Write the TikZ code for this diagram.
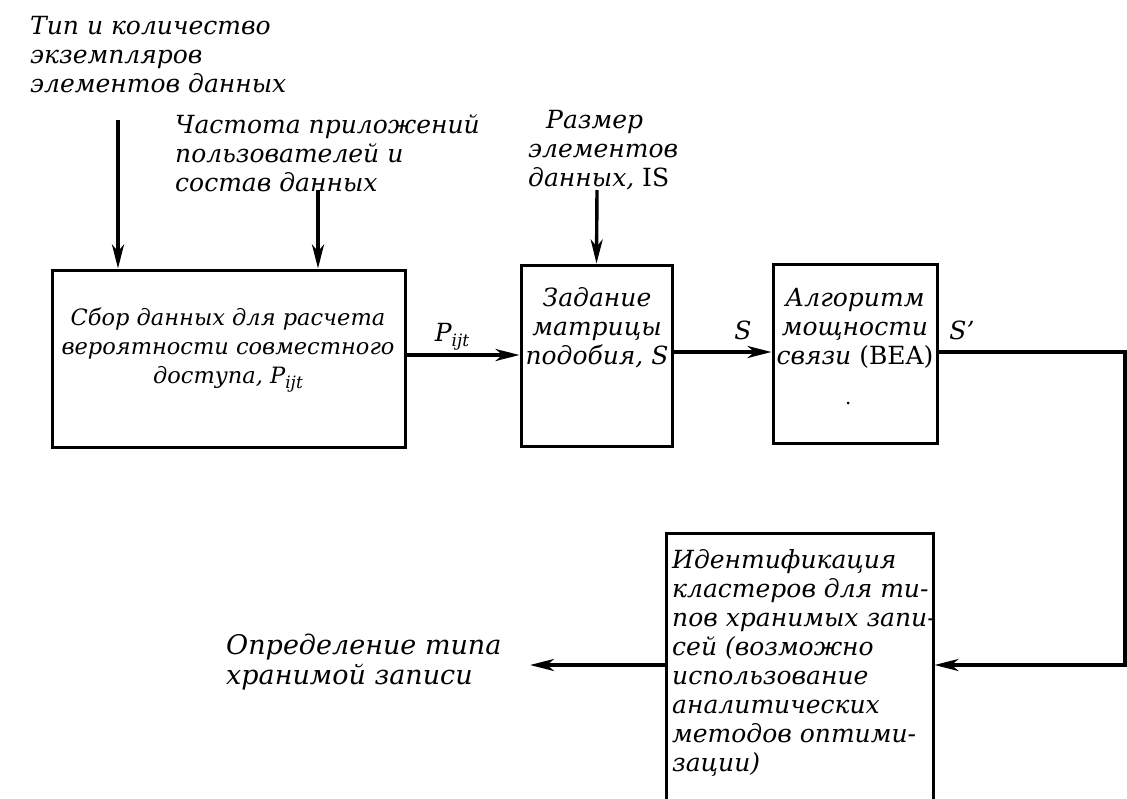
\documentclass[tikz,border=0pt]{standalone}
\usepackage{fontspec}
\setmainfont{DejaVu Serif}
\usetikzlibrary{arrows.meta}
% subscripted symbol such as P_{ijt}, set in the text italic
\newcommand{\idx}[2]{#1\raisebox{-0.35ex}{\fontsize{17}{17}\selectfont #2}}
\begin{document}
\begin{tikzpicture}[x=1pt,y=-1pt,
  every node/.style={font=\itshape\fontsize{25}{29}\selectfont, inner sep=0pt},
  small/.style={font=\itshape\fontsize{22.5}{29}\selectfont},
  blk/.style={draw, line width=3pt, minimum width=#1},
  lbl/.style={align=left, anchor=north west},
  ctext/.style={align=center},
  arr/.style={line width=3.4pt, -{Stealth[length=24pt,width=12pt,inset=7pt]}},
  ]
\useasboundingbox (0,0) rectangle (1127,798);

% blocks
\node[blk=353pt, minimum height=177pt] (b1) at (228.5,358.5) {};
\node[blk=151pt, minimum height=181pt] (b2) at (596.5,355.5) {};
\node[blk=164pt, minimum height=179pt] (b3) at (855,353.5) {};
\node[blk=267pt, minimum height=290pt] (b4) at (799.5,678) {};

% block texts
\node[ctext, small] (t1) at (228,350) {Сбор данных для расчета\\вероятности совместного\\доступа, \idx{P}{ijt}};
\node[ctext] (t2) at (597,328) {Задание\\матрицы\\подобия,~S};
\node[ctext] (t3) at (855,328) {Алгоритм\\мощности\\связи {\upshape(BEA)}};
\node[lbl] (t4) at (672,549) {Идентификация\\кластеров для ти-\\пов хранимых запи-\\сей (возможно\\использование\\аналитических\\методов оптими-\\зации)};
\fill (848,403) circle (1.5pt);

% input labels
\node[lbl] (in1) at (30,16) {Тип и количество\\экземпляров\\элементов данных};
\node[lbl] (in2) at (175,114) {Частота приложений\\пользователей и\\состав данных};
\node[lbl] (in3) at (528,110) {\hspace*{18pt}Размер\\элементов\\данных, {\upshape IS}};
\node[lbl, font=\itshape\fontsize{27}{30}\selectfont] (out) at (226,634) {Определение типа\\хранимой записи};

% flow labels
\node (lp) at (452,337) {\idx{P}{ijt}};
\node (ls) at (743,330) {S};
\node (lsp) at (962,330) {S'};

% input arrows
\coordinate (a1) at (118,120);
\coordinate (a2) at (318,190);
\coordinate (a3) at (597,190);
\draw[arr] (a1) -- (a1 |- b1.north);
\draw[arr] (a2) -- (a2 |- b1.north);
\draw[arr] (a3) -- (b2.north);

% main flow
\coordinate (yp) at (0,355);
\coordinate (ys) at (0,352);
\coordinate (yo) at (0,665);
\coordinate (edge) at (1125,352);
\coordinate (tip) at (530,665);
\draw[arr] (b1.east |- yp) -- (b2.west |- yp);
\draw[arr] (b2.east |- ys) -- (b3.west |- ys);
\draw[arr] (b3.east |- ys) -- (edge) -- (edge |- yo) -- (b4.east |- yo);
\draw[arr] (b4.west |- yo) -- (tip);
\end{tikzpicture}
\end{document}
